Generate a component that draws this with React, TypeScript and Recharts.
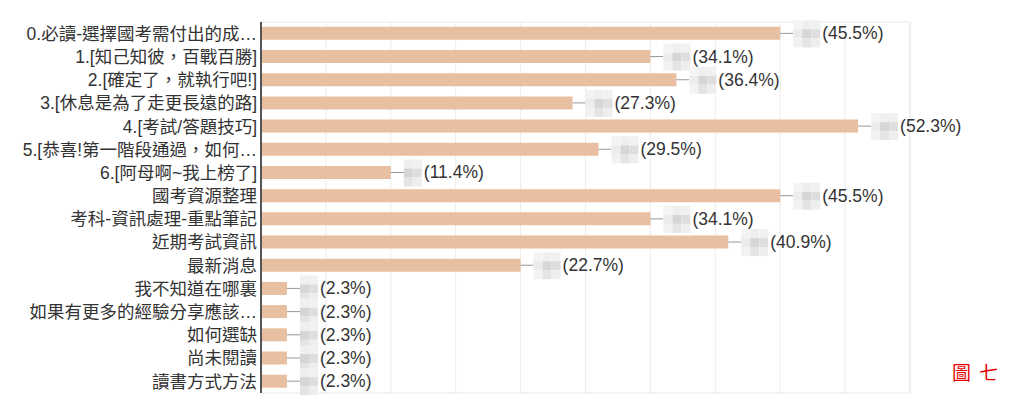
import React from 'react';
import {
  BarChart,
  Bar,
  XAxis,
  YAxis,
  CartesianGrid,
  ReferenceArea,
  LabelList
} from 'recharts';

const categories = [
  '0.必讀-選擇國考需付出的成…',
  '1.[知己知彼，百戰百勝]',
  '2.[確定了，就執行吧!]',
  '3.[休息是為了走更長遠的路]',
  '4.[考試/答題技巧]',
  '5.[恭喜!第一階段通過，如何…',
  '6.[阿母啊~我上榜了]',
  '國考資源整理',
  '考科-資訊處理-重點筆記',
  '近期考試資訊',
  '最新消息',
  '我不知道在哪裏',
  '如果有更多的經驗分享應該…',
  '如何選缺',
  '尚未閱讀',
  '讀書方式方法'
];

const counts = [20, 15, 16, 12, 23, 13, 5, 20, 15, 18, 10, 1, 1, 1, 1, 1];
const percents = ['45.5', '34.1', '36.4', '27.3', '52.3', '29.5', '11.4', '45.5', '34.1', '40.9', '22.7', '2.3', '2.3', '2.3', '2.3', '2.3'];
const xTicks = [0, 2.5, 5, 7.5, 10, 12.5, 15, 17.5, 20, 22.5, 25];

const data = categories.map((name, i) => ({ name, count: counts[i], pct: percents[i] }));

const FONT = '"Liberation Sans", "Noto Sans CJK TC", sans-serif';

// blurred-out count, drawn as a little mosaic
const shades = [
  ['#f4f4f4', '#efefef', '#f1f1f1'],
  ['#ececec', '#d6d6d6', '#dedede'],
  ['#f2f2f2', '#e4e4e4', '#eeeeee']
];

function ValueTag(props: any) {
  const { x, y, width, height, index } = props;
  const endX = Number(x) + Number(width);
  const cy = Number(y) + Number(height) / 2;
  const row = data[index];
  const cols = String(row.count).length + 1;
  const bx = endX + 13;
  const block = 9;
  const cells = [];
  for (let r = 0; r < 3; r++) {
    for (let c = 0; c < cols; c++) {
      cells.push(
        <rect
          key={`${r}-${c}`}
          x={bx + c * block}
          y={cy - 13 + r * block}
          width={block}
          height={block}
          fill={shades[r][c + (3 - cols)]}
        />
      );
    }
  }
  return (
    <g>
      <line x1={endX} y1={cy} x2={bx} y2={cy} stroke="#999" strokeWidth={1} />
      {cells}
      <text
        x={bx + cols * block + 2}
        y={cy}
        dominantBaseline="central"
        fill="#333"
        fontSize={17.5}
        fontFamily={FONT}
      >
        ({row.pct}%)
      </text>
    </g>
  );
}

export default function App() {
  return (
    <div style={{ position: 'absolute', left: 0, top: 0, width: 1024, height: 401, background: '#fff' }}>
      <BarChart
        width={1024}
        height={401}
        data={data}
        layout="vertical"
        margin={{ top: 22, right: 114, bottom: 8, left: 0 }}
        barCategoryGap="21%"
      >
        <CartesianGrid horizontal={false} stroke="#ececec" />
        <ReferenceArea x1={0} x2={25} fill="none" stroke="#e8e8e8" />
        <XAxis type="number" domain={[0, 25]} ticks={xTicks} hide />
        <YAxis
          type="category"
          dataKey="name"
          width={261}
          interval={0}
          tickLine={false}
          tickSize={0}
          tickMargin={4}
          axisLine={{ stroke: '#555', strokeWidth: 2 }}
          tick={{ fill: '#333', fontSize: 17.5, fontFamily: FONT }}
        />
        <Bar dataKey="count" fill="#e8bfa0" isAnimationActive={false}>
          <LabelList dataKey="count" content={(p: any) => <ValueTag {...p} />} />
        </Bar>
      </BarChart>
      <span
        style={{
          position: 'absolute',
          left: 952,
          top: 358,
          color: '#e60000',
          fontSize: 19,
          fontFamily: '"Noto Sans CJK TC", sans-serif',
          letterSpacing: 2
        }}
      >
        圖 七
      </span>
    </div>
  );
}
